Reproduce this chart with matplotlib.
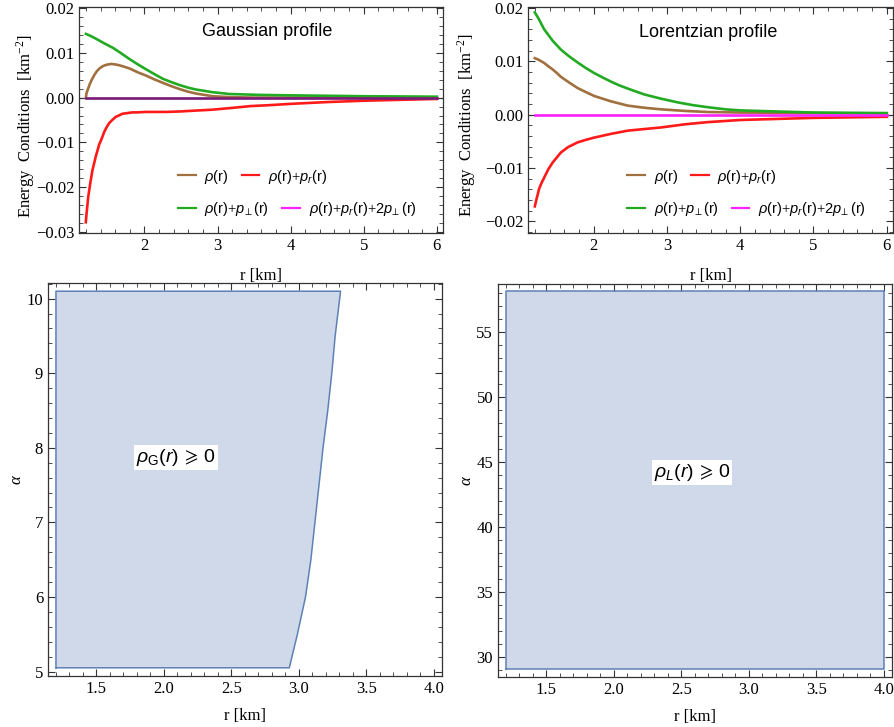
import numpy as np
import matplotlib
matplotlib.use("Agg")
import matplotlib.pyplot as plt
from matplotlib.lines import Line2D
from matplotlib.ticker import MultipleLocator, FormatStrFormatter

plt.rcParams['font.family'] = ['Liberation Serif', 'DejaVu Serif']
plt.rcParams['mathtext.fontset'] = 'custom'
plt.rcParams['mathtext.rm'] = 'Liberation Serif'
plt.rcParams['mathtext.sf'] = 'Liberation Sans'
plt.rcParams['mathtext.it'] = 'Liberation Sans:italic'

# ---------------- data: Gaussian profile (top-left) ----------------
g_rho_r = [1.2, 1.205, 1.21, 1.23, 1.25, 1.28, 1.317, 1.35, 1.385, 1.43, 1.476, 1.545, 1.6, 1.658,
           1.72, 1.795, 1.9, 2.023, 2.13, 2.25, 2.36, 2.48, 2.6, 2.705, 2.82, 2.933, 3.05, 3.16, 3.5, 4.0, 5.0, 6.0]
g_rho = [0.0, 0.0007, 0.0011, 0.0020, 0.0029, 0.0040, 0.0051, 0.0059, 0.0065, 0.0070, 0.0073, 0.0075, 0.0074, 0.0072,
         0.0069, 0.0065, 0.0057, 0.0049, 0.0041, 0.0033, 0.0026, 0.0019, 0.0013, 0.0009, 0.0006, 0.0003, 0.0002, 0.0001, 0.0, 0.0, 0.0, 0.0]

g_rpr_r = [1.198, 1.21, 1.23, 1.26, 1.29, 1.31, 1.335, 1.36, 1.38, 1.41, 1.449, 1.48, 1.517, 1.56, 1.608, 1.65,
           1.699, 1.75, 1.836, 1.9, 2.02, 2.1, 2.3, 2.48, 2.7, 2.93, 3.2, 3.45, 3.7, 4.0, 4.5, 5.0, 5.5, 6.0]
g_rpr = [-0.0278, -0.0256, -0.0223, -0.0190, -0.0161, -0.0148, -0.0131, -0.0117, -0.0105, -0.0094, -0.0077, -0.0067,
         -0.0057, -0.0050, -0.0043, -0.0040, -0.0036, -0.0035, -0.0033, -0.0033, -0.0032, -0.0032, -0.0032, -0.0031,
         -0.0029, -0.0027, -0.0023, -0.0019, -0.0017, -0.0014, -0.0010, -0.0007, -0.0005, -0.0003]

g_rpt_r = [1.2, 1.27, 1.34, 1.45, 1.568, 1.68, 1.795, 1.91, 2.023, 2.14, 2.25, 2.36, 2.48, 2.6, 2.705, 2.82,
           2.93, 3.16, 3.57, 4.0, 5.0, 6.0]
g_rpt = [0.0142, 0.0137, 0.0131, 0.0121, 0.0111, 0.0099, 0.0086, 0.0074, 0.0063, 0.0052, 0.0042, 0.0035, 0.0028,
         0.0022, 0.0018, 0.0015, 0.0012, 0.0008, 0.0006, 0.0005, 0.0003, 0.0002]

g_sec_r = [1.2, 6.0]
g_sec = [0.0, 0.0]

# ---------------- data: Lorentzian profile (top-right) ----------------
l_rho_r = [1.198, 1.25, 1.326, 1.38, 1.44, 1.5, 1.554, 1.67, 1.781, 1.9, 2.009, 2.237, 2.465, 2.69, 2.92,
           3.25, 3.557, 4.0, 5.0, 6.0]
l_rho = [0.0106, 0.0103, 0.0097, 0.0091, 0.0085, 0.0078, 0.0071, 0.0060, 0.0050, 0.0042, 0.0035, 0.0025, 0.0017,
         0.0013, 0.0010, 0.0007, 0.0005, 0.0004, 0.0003, 0.0002]

l_rpr_r = [1.198, 1.22, 1.257, 1.29, 1.326, 1.38, 1.44, 1.5, 1.554, 1.65, 1.781, 1.9, 2.009, 2.237, 2.465,
           2.69, 2.92, 3.25, 3.557, 4.0, 4.5, 5.0, 5.5, 6.0]
l_rpr = [-0.0172, -0.0159, -0.0139, -0.0128, -0.0118, -0.0103, -0.0090, -0.0080, -0.0071, -0.0061, -0.0052,
         -0.0047, -0.0043, -0.0036, -0.0030, -0.0027, -0.0024, -0.0018, -0.0014, -0.0010, -0.0008, -0.0006,
         -0.0005, -0.0004]

l_rpt_r = [1.198, 1.25, 1.326, 1.44, 1.554, 1.67, 1.781, 1.9, 2.009, 2.12, 2.237, 2.35, 2.465, 2.69, 2.92,
           3.15, 3.35, 3.557, 3.8, 4.0, 4.5, 5.0, 5.5, 6.0]
l_rpt = [0.0192, 0.0180, 0.0160, 0.0139, 0.0122, 0.0109, 0.0098, 0.0087, 0.0078, 0.0070, 0.0062, 0.0055,
         0.0049, 0.0038, 0.0030, 0.0023, 0.0018, 0.0014, 0.0010, 0.0008, 0.0006, 0.0004, 0.00035, 0.0003]

l_sec_r = [1.2, 6.0]
l_sec = [0.0, 0.0]

# ---------------- data: region plots (bottom) ----------------
gauss_alpha = [5.05, 5.5, 6.0, 6.5, 7.0, 7.5, 8.0, 8.5, 9.0, 9.5, 10.1]
gauss_r_max = [2.93, 2.99, 3.05, 3.09, 3.12, 3.15, 3.18, 3.215, 3.245, 3.27, 3.31]
gauss_r_min = 1.2

lor_alpha = [29.05, 58.15]
lor_r_min = 1.2
lor_r_max = 4.0

legend_labels = [r'$\rho\mathsf{(r)}$', r'$\rho\mathsf{(r)}{+}p_r\mathsf{(r)}$',
                 r'$\rho\mathsf{(r)}{+}p_{\!\perp}\mathsf{(r)}$',
                 r'$\rho\mathsf{(r)}{+}p_r\mathsf{(r)}{+}\mathsf{2}p_{\!\perp}\mathsf{(r)}$']

C_BROWN = '#A0703E'
C_RED = '#FF1A1A'
C_GREEN = '#22AA22'
C_MAG = '#FF22FF'
C_PURPLE = '#7A1A7A'
FILL = '#CFD9E9'
EDGE = '#5E81B5'

W, H = 894, 727
fig = plt.figure(figsize=(W / 100, H / 100), dpi=100)


def add_ax(l, r, t, b):
    return fig.add_axes([l / W, 1 - b / H, (r - l) / W, (b - t) / H])


def style(ax, xmaj, xmin, ymaj, ymin):
    ax.xaxis.set_major_locator(MultipleLocator(xmaj))
    ax.xaxis.set_minor_locator(MultipleLocator(xmin))
    ax.yaxis.set_major_locator(MultipleLocator(ymaj))
    ax.yaxis.set_minor_locator(MultipleLocator(ymin))
    ax.tick_params(which='both', direction='in', top=True, right=True,
                   labelsize=12, color='#333333')
    ax.tick_params(which='major', length=5, width=0.8)
    ax.tick_params(which='minor', length=2.8, width=0.6)
    for s in ax.spines.values():
        s.set_color('#333333')
        s.set_linewidth(0.9)


def ec_panel(ax, data, zero_col, title, tx, ty, ylim, yticks, ylab_x, ylab_y):
    ax.axhline(0, color='black', lw=0.8, zorder=1)
    (rr, rho), (r2, rpr), (r3, rpt), (r4, sec) = data
    ax.plot(rr, rho, color=C_BROWN, lw=1.9, zorder=3)
    ax.plot(r2, rpr, color=C_RED, lw=1.9, zorder=3)
    ax.plot(r3, rpt, color=C_GREEN, lw=1.9, zorder=3)
    ax.plot(r4, sec, color=zero_col, lw=1.9, zorder=4)
    ax.set_xlim(1.105, 6.085)
    ax.set_ylim(*ylim)
    style(ax, 1, 0.2, 0.01, 0.002)
    ax.set_yticks(yticks)
    ax.set_yticklabels([f'{v:.2f}'.replace('-', '\u2212') for v in yticks])
    ax.set_xticks([2, 3, 4, 5, 6])
    ax.set_xticklabels(['2', '3', '4', '5', '6'])
    ax.set_xlabel('r [km]', fontsize=12, labelpad=10)
    ax.set_ylabel('Energy  Conditions  [km$^{-2}$]', fontsize=12)
    ax.yaxis.set_label_coords(ylab_x, ylab_y)
    ax.text(tx, ty, title, transform=ax.transAxes, ha='center', va='center',
            fontsize=13, family='Liberation Sans')
    h = [Line2D([], [], color=c, lw=1.6) for c in (C_BROWN, C_RED, C_GREEN, C_MAG)]
    kw = dict(frameon=False, fontsize=10.5, handlelength=1.2, handletextpad=0.6,
              columnspacing=0.9, borderpad=0, borderaxespad=0, ncol=2, loc='center left')
    leg1 = ax.legend(h[:2], legend_labels[:2], bbox_to_anchor=(0.272, 0.25), **kw)
    ax.add_artist(leg1)
    ax.legend(h[2:], legend_labels[2:], bbox_to_anchor=(0.272, 0.105), **kw)


ax1 = add_ax(79, 443, 7, 233)
ec_panel(ax1, [(g_rho_r, g_rho), (g_rpr_r, g_rpr), (g_rpt_r, g_rpt), (g_sec_r, g_sec)],
         C_PURPLE, 'Gaussian profile', 0.516, 0.89, (-0.0302, 0.0202),
         [-0.03, -0.02, -0.01, 0.0, 0.01, 0.02], -0.115, 0.473)

ax2 = add_ax(528, 893, 7, 233)
ec_panel(ax2, [(l_rho_r, l_rho), (l_rpr_r, l_rpr), (l_rpt_r, l_rpt), (l_sec_r, l_sec)],
         C_MAG, 'Lorentzian profile', 0.493, 0.885, (-0.0222, 0.0202),
         [-0.02, -0.01, 0.0, 0.01, 0.02], -0.137, 0.478)

# bottom-left
ax3 = add_ax(48, 442, 283, 676)
ax3.fill_betweenx(gauss_alpha, gauss_r_min, gauss_r_max, facecolor=FILL, edgecolor='none')
ax3.plot([gauss_r_min] + gauss_r_max + [gauss_r_min, gauss_r_min],
         [gauss_alpha[0]] + gauss_alpha + [gauss_alpha[-1], gauss_alpha[0]],
         color=EDGE, lw=1.1)
ax3.set_xlim(1.141, 4.062)
ax3.set_ylim(4.94, 10.21)
style(ax3, 0.5, 0.1, 1, 0.2)
ax3.xaxis.set_major_formatter(FormatStrFormatter('%.1f'))
ax3.set_xlabel('r [km]', fontsize=12, labelpad=8)
ax3.set_ylabel('α', fontsize=12, fontstyle='italic')
ax3.yaxis.set_label_coords(-0.06, 0.5)
ax3.text(2.09, 7.87, r'$\rho_\mathsf{G}\mathsf{(}r\mathsf{)}\,\geqslant\,\mathsf{0}$',
         fontsize=14, ha='center', va='center',
         bbox=dict(facecolor='white', edgecolor='none', pad=1.5))

# bottom-right
ax4 = add_ax(498, 892, 284, 677)
ax4.fill_betweenx(lor_alpha, lor_r_min, lor_r_max, facecolor=FILL, edgecolor='none')
ax4.plot([lor_r_min, lor_r_max, lor_r_max, lor_r_min, lor_r_min],
         [lor_alpha[0], lor_alpha[0], lor_alpha[1], lor_alpha[1], lor_alpha[0]],
         color=EDGE, lw=1.1)
ax4.set_xlim(1.142, 4.062)
ax4.set_ylim(28.46, 58.67)
style(ax4, 0.5, 0.1, 5, 1)
ax4.xaxis.set_major_formatter(FormatStrFormatter('%.1f'))
ax4.set_xlabel('r [km]', fontsize=12, labelpad=8)
ax4.set_ylabel('α', fontsize=12, fontstyle='italic')
ax4.yaxis.set_label_coords(-0.06, 0.5)
ax4.text(2.58, 44.2, r'$\rho_L\mathsf{(}r\mathsf{)}\,\geqslant\,\mathsf{0}$',
         fontsize=14, ha='center', va='center',
         bbox=dict(facecolor='white', edgecolor='none', pad=1.5))

fig.savefig('out.png', dpi=100, facecolor='white')
